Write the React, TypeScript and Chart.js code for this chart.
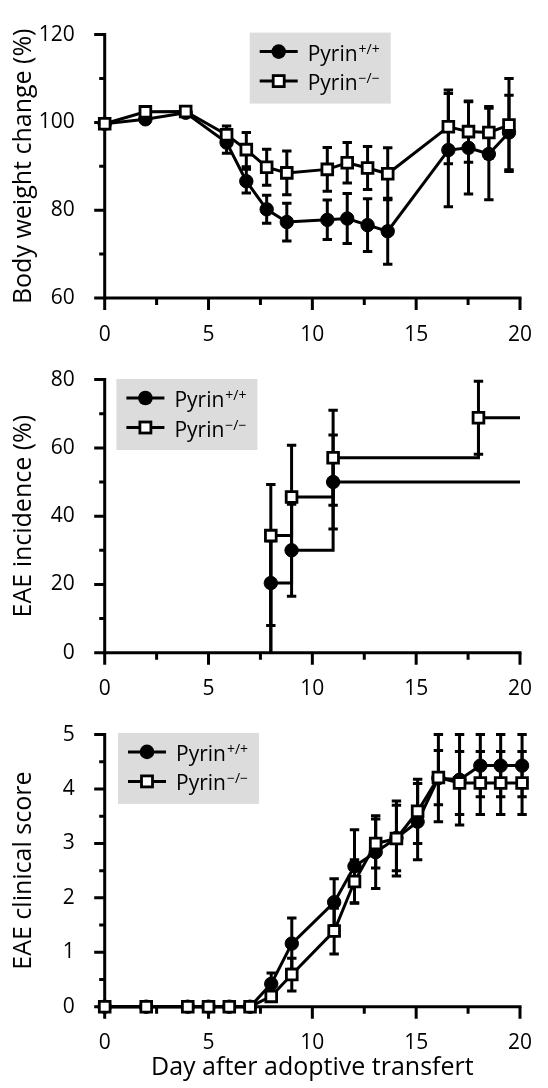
import { useEffect, useRef } from 'react';
import { Chart, registerables } from 'chart.js';

Chart.register(...registerables);

const FONT = '"Open Sans", "Noto Sans", "DejaVu Sans", sans-serif';

// ---------- legend ----------
const seriesNames = ['Pyrin', 'Pyrin'];
const seriesSups = ['+/+', '\u2212/\u2212'];

// ---------- axis ticks ----------
const dayTicks = [0, 5, 10, 15, 20];
const weightTicks = [60, 80, 100, 120];
const incidenceTicks = [0, 20, 40, 60, 80];
const scoreTicks = [0, 1, 2, 3, 4, 5];

// ---------- panel A: body weight change (%) ----------
const weightDays = [0, 1.96, 3.9, 5.87, 6.82, 7.8, 8.77, 10.72, 11.68, 12.66, 13.63, 16.55, 17.52, 18.5, 19.47];
const weightWT = [99.7, 100.7, 102.2, 95.4, 86.6, 80.2, 77.3, 77.8, 78.1, 76.6, 75.2, 93.7, 94.2, 92.8, 97.7];
const weightWTErr = [0, 0.8, 0, 2.4, 2.7, 3.2, 4.3, 4.5, 5.7, 6.0, 7.5, 12.9, 10.5, 10.4, 8.5];
const weightKO = [99.7, 102.4, 102.5, 97.2, 93.8, 89.8, 88.5, 89.3, 90.8, 89.6, 88.3, 99.0, 97.9, 97.7, 99.4];
const weightKOErr = [0, 0, 0, 2.0, 3.9, 4.1, 5.0, 5.0, 4.6, 4.9, 5.9, 8.4, 7.0, 5.9, 10.6];

// ---------- panel B: EAE incidence (%) ----------
const incidenceDaysWT = [8, 9, 11];
const incidenceWT = [20.4, 30.0, 50.0];
const incidenceWTErr = [12.4, 13.5, 13.8];
const incidenceDaysKO = [8, 9, 11, 18];
const incidenceKO = [34.3, 45.6, 57.1, 68.8];
const incidenceKOErr = [15.0, 15.2, 13.9, 10.7];

// ---------- panel C: EAE clinical score ----------
const scoreDays = [0, 2, 4, 5, 6, 7, 8.02, 9.01, 11.05, 12.03, 13.05, 14.05, 15.07, 16.07, 17.09, 18.09, 19.07, 20.1];
const scoreWT = [0, 0, 0, 0, 0, 0, 0.42, 1.16, 1.92, 2.58, 2.84, 3.1, 3.4, 4.2, 4.17, 4.43, 4.43, 4.43];
const scoreWTErr = [0, 0, 0, 0, 0, 0, 0.2, 0.47, 0.43, 0.67, 0.67, 0.6, 0.7, 0.8, 0.83, 0.57, 0.57, 0.57];
const scoreKO = [0, 0, 0, 0, 0, 0, 0.19, 0.59, 1.39, 2.3, 3.0, 3.09, 3.59, 4.21, 4.11, 4.11, 4.11, 4.11];
const scoreKOErr = [0, 0, 0, 0, 0, 0, 0.05, 0.3, 0.42, 0.4, 0.45, 0.69, 0.59, 0.5, 0.58, 0.58, 0.58, 0.58];

// ---------- helpers ----------
const toPts = (xs: number[], ys: number[]) => xs.map((x, i) => ({ x, y: ys[i] }));

const LW = 3;
const WT_R = 6.7;
const KO_R = 7.6;

const wtStyle = {
  borderColor: '#000',
  borderWidth: LW,
  pointStyle: 'circle',
  pointBackgroundColor: '#000',
  pointBorderColor: '#000',
  pointBorderWidth: 1,
  tension: 0,
  fill: false,
  clip: false,
  order: 2,
};
const koStyle = {
  borderColor: '#000',
  borderWidth: LW,
  pointStyle: 'rect',
  pointBackgroundColor: '#fff',
  pointBorderColor: '#000',
  pointBorderWidth: 2.8,
  tension: 0,
  fill: false,
  clip: false,
  order: 1,
};

function lineSets(xWT: number[], yWT: number[], eWT: number[], xKO: number[], yKO: number[], eKO: number[]) {
  return [
    { ...wtStyle, label: seriesNames[0] + seriesSups[0], data: toPts(xWT, yWT), errors: eWT, pointRadius: WT_R },
    { ...koStyle, label: seriesNames[1] + seriesSups[1], data: toPts(xKO, yKO), errors: eKO, pointRadius: KO_R },
  ];
}

function stepSet(style: any, label: string, xs: number[], ys: number[], es: number[], r: number) {
  const xEnd = dayTicks[dayTicks.length - 1];
  const data = [{ x: xs[0], y: 0 }, ...toPts(xs, ys), { x: xEnd, y: ys[ys.length - 1] }];
  const radii = data.map((_, i) => (i === 0 || i === data.length - 1 ? 0 : r));
  return { ...style, label, data, errors: [0, ...es, 0], pointRadius: radii, stepped: 'before' };
}

function drawLegend(ctx: CanvasRenderingContext2D, x: number, y: number) {
  ctx.save();
  ctx.fillStyle = '#dcdcdc';
  ctx.fillRect(x, y, 141, 71);
  for (let i = 0; i < 2; i++) {
    const cy = y + 19 + i * 29.5;
    ctx.strokeStyle = '#000';
    ctx.lineWidth = LW;
    ctx.beginPath();
    ctx.moveTo(x + 10, cy);
    ctx.lineTo(x + 48, cy);
    ctx.stroke();
    if (i === 0) {
      ctx.fillStyle = '#000';
      ctx.beginPath();
      ctx.arc(x + 29, cy, 7.3, 0, Math.PI * 2);
      ctx.fill();
    } else {
      ctx.lineWidth = 2.8;
      ctx.fillStyle = '#fff';
      ctx.fillRect(x + 29 - 5.5, cy - 5.5, 11, 11);
      ctx.strokeRect(x + 29 - 5.5, cy - 5.5, 11, 11);
    }
    ctx.fillStyle = '#000';
    ctx.textAlign = 'left';
    ctx.textBaseline = 'alphabetic';
    ctx.font = `21px ${FONT}`;
    ctx.fillText(seriesNames[i], x + 58, cy + 9);
    const w = ctx.measureText(seriesNames[i]).width;
    ctx.font = `14px ${FONT}`;
    ctx.fillText(seriesSups[i], x + 58 + w + 1, cy + 2);
  }
  ctx.restore();
}

const decoPlugin = {
  id: 'deco',
  beforeDatasetsDraw(chart: any, _args: any, opts: any) {
    const ctx: CanvasRenderingContext2D = chart.ctx;
    const { left, right, top, bottom } = chart.chartArea;
    const xs = chart.scales.x;
    const ys = chart.scales.y;
    ctx.save();
    ctx.strokeStyle = '#000';
    ctx.lineWidth = LW;
    ctx.lineCap = 'butt';
    // axes
    ctx.beginPath();
    ctx.moveTo(left, top - 1.5);
    ctx.lineTo(left, bottom);
    ctx.lineTo(right + 1.5, bottom);
    ctx.stroke();
    // y ticks
    const yT: number[] = opts.yTicks;
    ctx.beginPath();
    yT.forEach((v) => {
      const y = ys.getPixelForValue(v);
      ctx.moveTo(left - 10.5, y);
      ctx.lineTo(left, y);
    });
    for (let i = 0; i < yT.length - 1; i++) {
      const y = ys.getPixelForValue((yT[i] + yT[i + 1]) / 2);
      ctx.moveTo(left - 5.5, y);
      ctx.lineTo(left, y);
    }
    // x ticks
    dayTicks.forEach((v) => {
      const x = xs.getPixelForValue(v);
      ctx.moveTo(x, bottom);
      ctx.lineTo(x, bottom + 12);
    });
    for (let i = 0; i < dayTicks.length - 1; i++) {
      const x = xs.getPixelForValue((dayTicks[i] + dayTicks[i + 1]) / 2);
      ctx.moveTo(x, bottom);
      ctx.lineTo(x, bottom + 7);
    }
    ctx.stroke();
    // error bars
    chart.data.datasets.forEach((ds: any) => {
      if (!ds.errors) return;
      ds.data.forEach((pt: any, i: number) => {
        const e = ds.errors[i];
        if (!e) return;
        const x = xs.getPixelForValue(pt.x);
        const y1 = ys.getPixelForValue(pt.y + e);
        const y2 = ys.getPixelForValue(pt.y - e);
        ctx.beginPath();
        ctx.moveTo(x, y1);
        ctx.lineTo(x, y2);
        ctx.moveTo(x - 4.7, y1);
        ctx.lineTo(x + 4.7, y1);
        ctx.moveTo(x - 4.7, y2);
        ctx.lineTo(x + 4.7, y2);
        ctx.stroke();
      });
    });
    ctx.restore();
  },
  afterDraw(chart: any, _args: any, opts: any) {
    const { left, top } = chart.chartArea;
    drawLegend(chart.ctx, left + opts.legendX, top + opts.legendY);
  },
};

interface PanelSpec {
  datasets: any[];
  yMin: number;
  yMax: number;
  yTicks: number[];
  yTitle: string;
  xTitle?: string;
  top: number;
  xHeight: number;
  legendX: number;
  legendY: number;
}

function makeConfig(p: PanelSpec): any {
  return {
    type: 'line',
    data: { datasets: p.datasets },
    plugins: [decoPlugin],
    options: {
      responsive: false,
      animation: false,
      events: [],
      layout: { padding: { left: 0, right: 13.7, top: p.top, bottom: 0 } },
      plugins: {
        legend: { display: false },
        tooltip: { enabled: false },
        deco: { legendX: p.legendX, legendY: p.legendY, yTicks: p.yTicks },
      },
      scales: {
        x: {
          type: 'linear',
          min: dayTicks[0],
          max: dayTicks[dayTicks.length - 1],
          grid: { display: false },
          border: { display: false },
          afterBuildTicks: (s: any) => {
            s.ticks = dayTicks.map((v) => ({ value: v }));
          },
          afterFit: (s: any) => {
            s.height = p.xHeight;
          },
          ticks: {
            font: { family: FONT, size: 21 },
            color: '#000',
            padding: 16,
            maxRotation: 0,
            autoSkip: false,
          },
          title: p.xTitle
            ? {
                display: true,
                text: p.xTitle,
                color: '#000',
                font: { family: FONT, size: 25, lineHeight: 1.2 },
                padding: { top: 0, bottom: 4.7 },
              }
            : { display: false },
        },
        y: {
          type: 'linear',
          min: p.yMin,
          max: p.yMax,
          grid: { display: false },
          border: { display: false },
          afterBuildTicks: (s: any) => {
            s.ticks = p.yTicks.map((v) => ({ value: v }));
          },
          afterFit: (s: any) => {
            s.width = 104.7;
          },
          ticks: {
            font: { family: FONT, size: 21 },
            color: '#000',
            padding: 22,
            autoSkip: false,
          },
          title: {
            display: true,
            text: p.yTitle,
            color: '#000',
            font: { family: FONT, size: 25, lineHeight: 1.2 },
            padding: { top: 8.5, bottom: 0 },
          },
        },
      },
    },
  };
}

export default function App() {
  const r1 = useRef<HTMLCanvasElement>(null);
  const r2 = useRef<HTMLCanvasElement>(null);
  const r3 = useRef<HTMLCanvasElement>(null);

  useEffect(() => {
    const charts: Chart[] = [];
    charts.push(
      new Chart(
        r1.current as HTMLCanvasElement,
        makeConfig({
          datasets: lineSets(weightDays, weightWT, weightWTErr, weightDays, weightKO, weightKOErr),
          yMin: 60,
          yMax: 120,
          yTicks: weightTicks,
          yTitle: 'Body weight change (%)',
          top: 16.7,
          xHeight: 47,
          legendX: 145,
          legendY: -2,
        })
      )
    );
    charts.push(
      new Chart(
        r2.current as HTMLCanvasElement,
        makeConfig({
          datasets: [
            stepSet(wtStyle, seriesNames[0] + seriesSups[0], incidenceDaysWT, incidenceWT, incidenceWTErr, WT_R),
            stepSet(koStyle, seriesNames[1] + seriesSups[1], incidenceDaysKO, incidenceKO, incidenceKOErr, KO_R),
          ],
          yMin: 0,
          yMax: 80,
          yTicks: incidenceTicks,
          yTitle: 'EAE incidence (%)',
          top: 22.3,
          xHeight: 47.3,
          legendX: 11.7,
          legendY: -0.6,
        })
      )
    );
    charts.push(
      new Chart(
        r3.current as HTMLCanvasElement,
        makeConfig({
          datasets: lineSets(scoreDays, scoreWT, scoreWTErr, scoreDays, scoreKO, scoreKOErr),
          yMin: 0,
          yMax: 5,
          yTicks: scoreTicks,
          yTitle: 'EAE clinical score',
          xTitle: 'Day after adoptive transfert',
          top: 22.7,
          xHeight: 81.3,
          legendX: 13.3,
          legendY: -1.7,
        })
      )
    );
    return () => {
      charts.forEach((c) => c.destroy());
    };
  }, []);

  return (
    <div style={{ position: 'absolute', left: 0, top: 0, width: 548, height: 1088, background: '#fff' }}>
      <canvas ref={r1} width={548} height={345} style={{ position: 'absolute', left: 0, top: 0 }} />
      <canvas ref={r2} width={548} height={355} style={{ position: 'absolute', left: 0, top: 345 }} />
      <canvas ref={r3} width={548} height={388} style={{ position: 'absolute', left: 0, top: 700 }} />
    </div>
  );
}
